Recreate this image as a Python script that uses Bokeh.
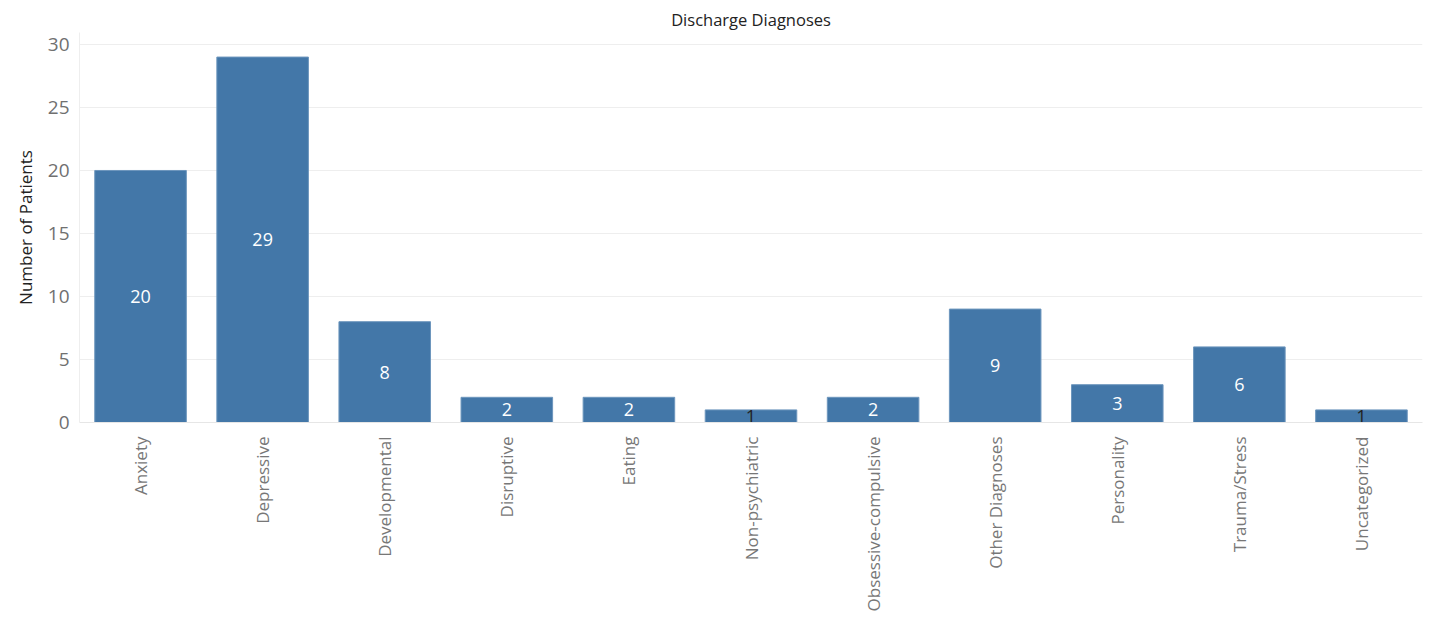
from bokeh.plotting import figure
from bokeh.models import ColumnDataSource, Range1d, FactorRange, FixedTicker
from bokeh.embed import file_html
from bokeh.resources import INLINE
from bokeh.core.properties import value

categories = ["Anxiety", "Depressive", "Developmental", "Disruptive", "Eating",
              "Non-psychiatric", "Obsessive-compulsive", "Other Diagnoses",
              "Personality", "Trauma/Stress", "Uncategorized"]
patients = [20, 29, 8, 2, 2, 1, 2, 9, 3, 6, 1]
y_ticks = [0, 5, 10, 15, 20, 25, 30]

FONT = "Open Sans"
BAR = "#4377a8"

src = ColumnDataSource(dict(
    cat=categories,
    n=patients,
    mid=[v / 2 for v in patients],
    lbl=[str(v) for v in patients],
    lc=["#222222" if v <= 1 else "white" for v in patients],
))

p = figure(x_range=FactorRange(*categories, range_padding=0), y_range=Range1d(0, 30.95),
           width=1424, height=614, output_backend="svg", toolbar_location=None,
           min_border_left=79, min_border_right=2, min_border_top=32, min_border_bottom=192)

p.vbar(x="cat", top="n", width=0.75, source=src, fill_color=BAR, line_color="#6d96bd",
       line_width=1)
p.text(x="cat", y="mid", text="lbl", source=src, text_color="lc",
       text_align="center", text_baseline="middle", text_font=value(FONT),
       text_font_size="18px")

p.title.text = "Discharge Diagnoses"
p.title.align = "center"
p.title.standoff = 3
p.title.text_font = FONT
p.title.text_font_size = "16.5px"
p.title.text_font_style = "normal"
p.title.text_color = "#222222"

p.outline_line_color = None
p.xgrid.grid_line_color = None
p.ygrid.grid_line_color = "#eeeeee"
p.ygrid.ticker = FixedTicker(ticks=y_ticks)

p.yaxis.ticker = FixedTicker(ticks=y_ticks)
p.yaxis.axis_label = "Number of Patients"
p.yaxis.axis_label_text_font = FONT
p.yaxis.axis_label_text_font_size = "17px"
p.yaxis.axis_label_text_font_style = "normal"
p.yaxis.axis_label_text_color = "#222222"
p.yaxis.axis_label_standoff = 8
p.yaxis.major_label_text_font = FONT
p.yaxis.major_label_text_font_size = "19px"
p.yaxis.major_label_text_color = "#707070"
p.yaxis.axis_line_color = "#eeeeee"
p.yaxis.major_tick_line_color = None
p.yaxis.minor_tick_line_color = None
p.yaxis.major_label_standoff = 4

p.xaxis.major_label_orientation = 1.5708
p.xaxis.major_label_text_font = FONT
p.xaxis.major_label_text_font_size = "17px"
p.xaxis.major_label_text_color = "#777777"
p.xaxis.axis_line_color = "#e6e6e6"
p.xaxis.major_tick_line_color = None
p.xaxis.major_label_standoff = 8

open("out.html", "w").write(file_html(p, INLINE))
